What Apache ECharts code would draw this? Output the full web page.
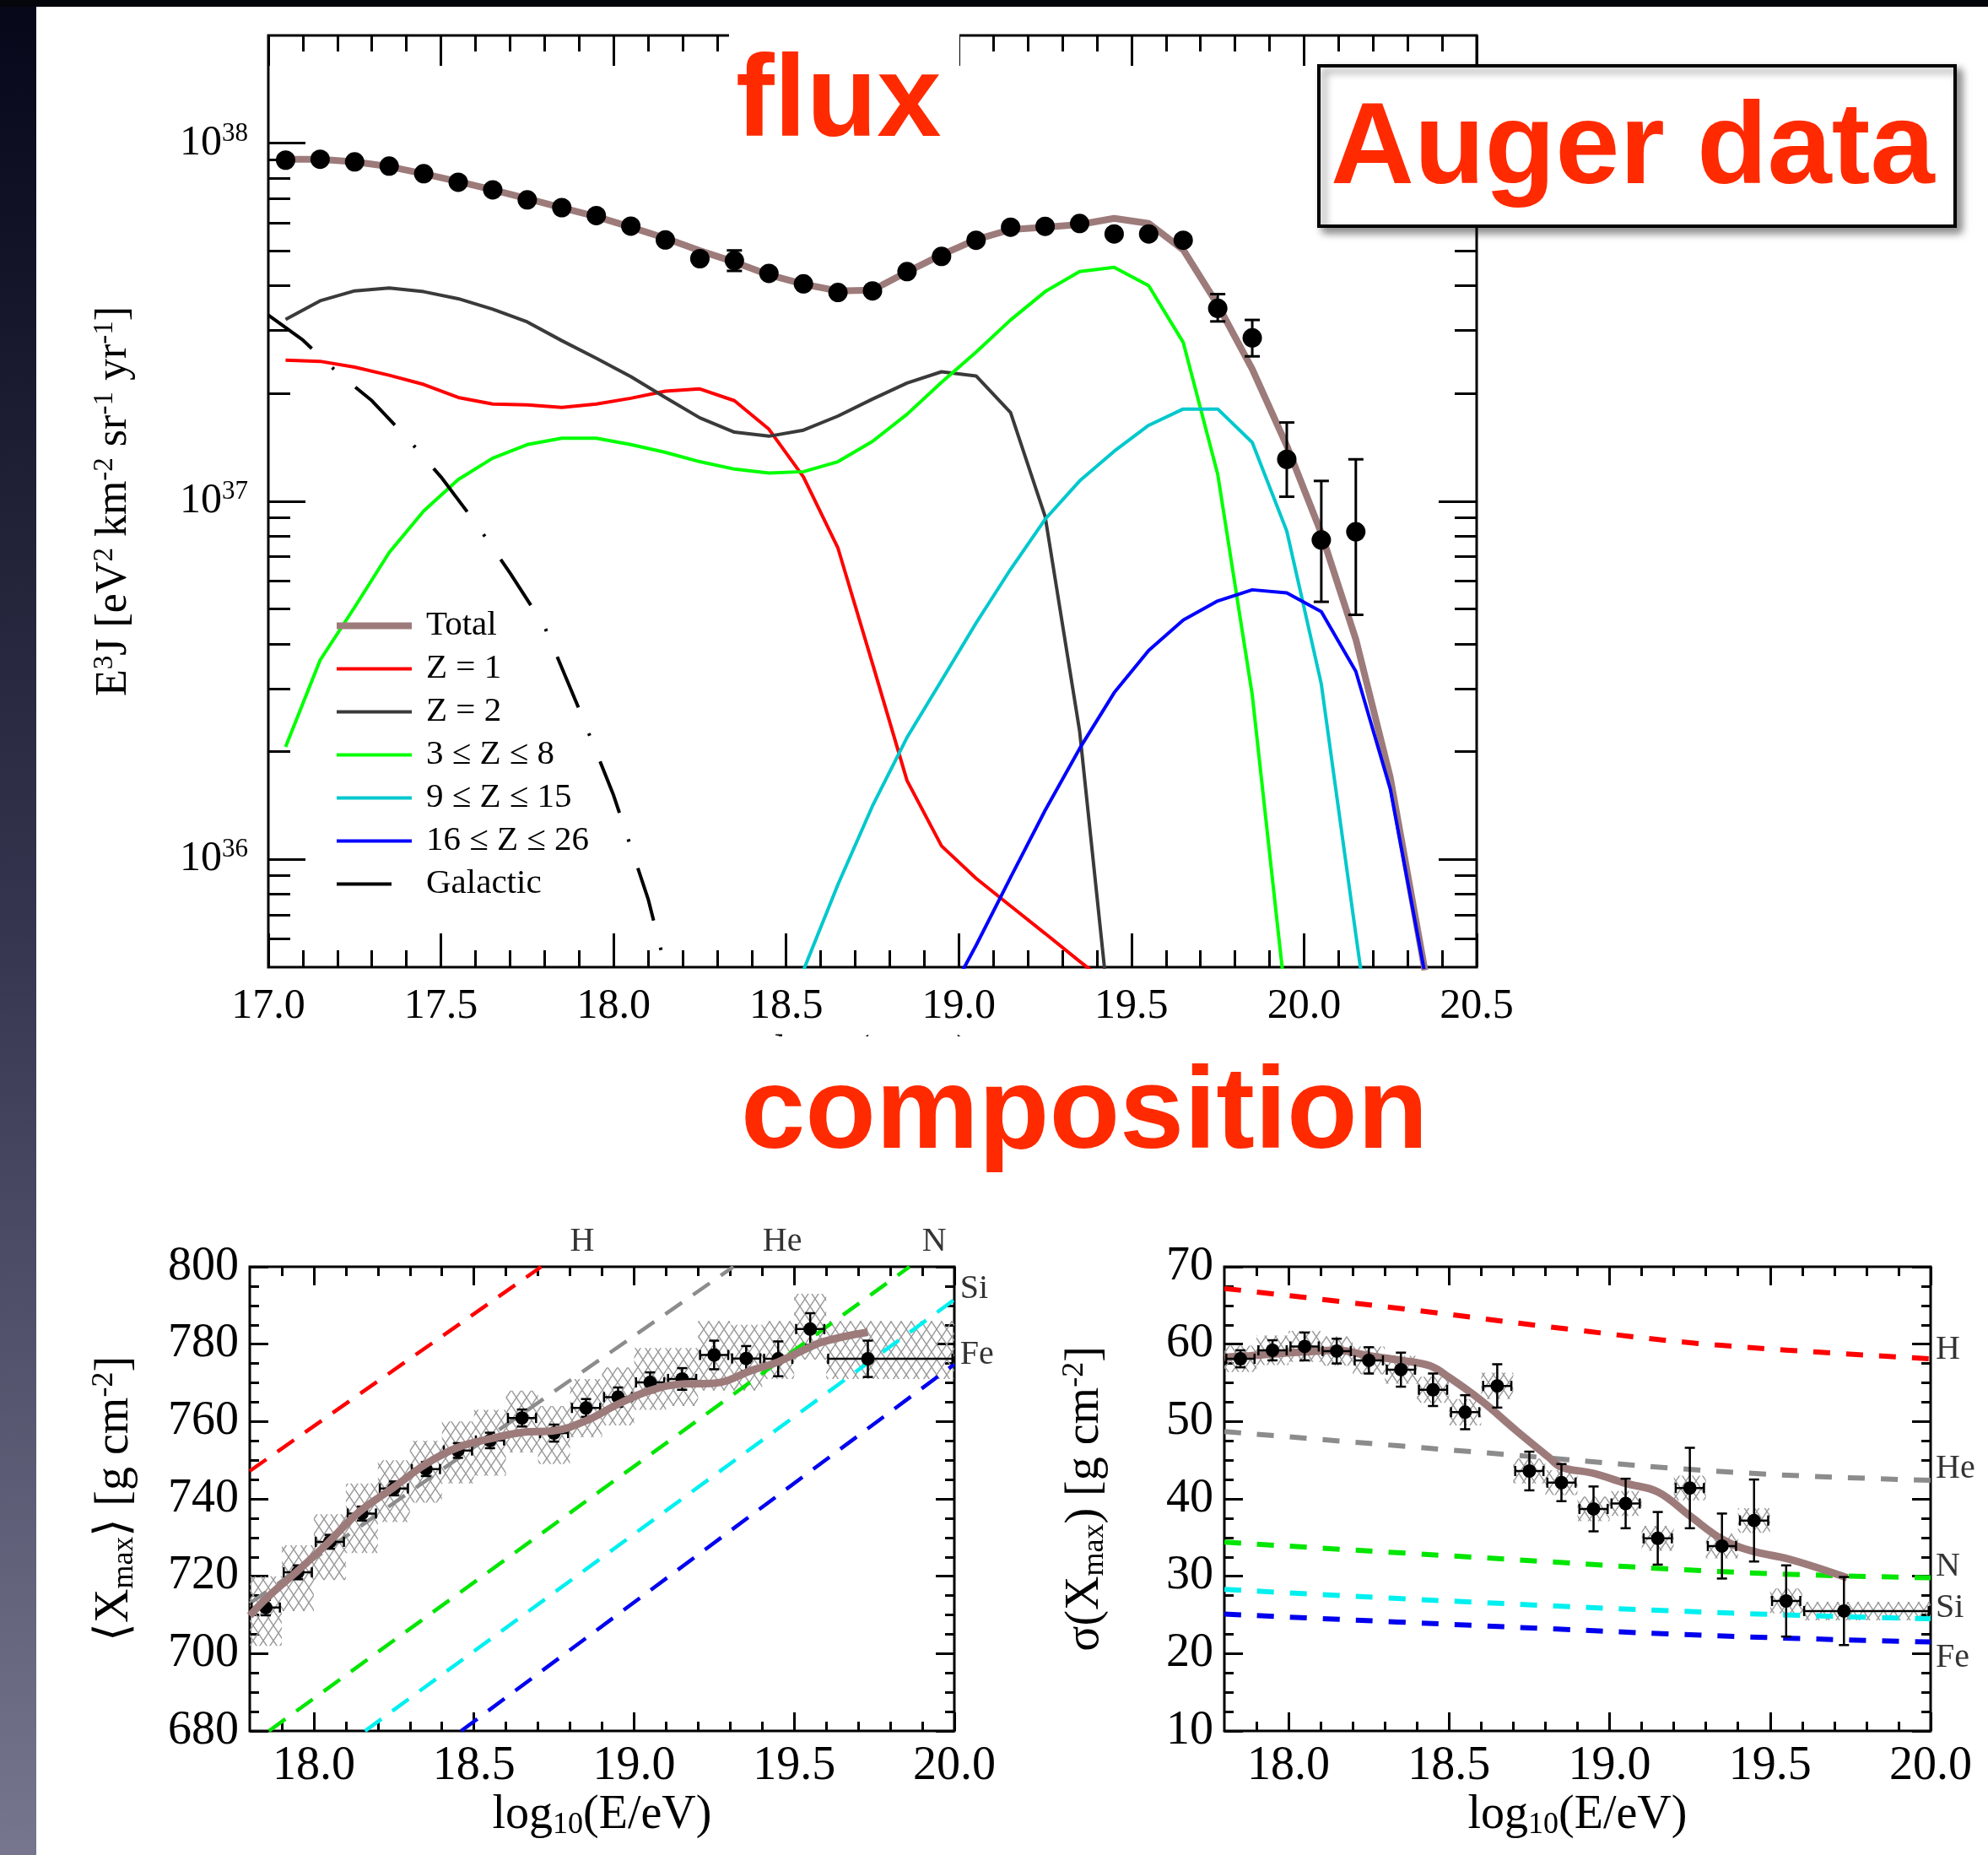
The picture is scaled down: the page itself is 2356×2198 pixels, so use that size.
<!DOCTYPE html>
<html>
<head>
<meta charset="utf-8">
<title>Auger data: flux and composition</title>
<script src="https://cdn.jsdelivr.net/npm/echarts@6/dist/echarts.min.js"></script>
<style>
    html, body { margin: 0; padding: 0; background: #fff; }
    #main { width: 2356px; height: 2198px; }
</style>
</head>
<body>
<div id="main"></div>
<script>
'use strict';

// ---------------- flux panel ----------------
var fluxE = [17.05, 17.15, 17.25, 17.35, 17.45, 17.55, 17.65, 17.75, 17.85, 17.95, 18.05, 18.15, 18.25, 18.35, 18.45, 18.55,
    18.65, 18.75, 18.85, 18.95, 19.05, 19.15, 19.25, 19.35, 19.45, 19.55, 19.65, 19.75, 19.85, 19.95, 20.05, 20.15];
var fluxJ = [8.97e37, 9.02e37, 8.87e37, 8.63e37, 8.22e37, 7.78e37, 7.41e37, 6.95e37, 6.61e37, 6.28e37, 5.87e37, 5.37e37, 4.76e37, 4.70e37, 4.33e37, 4.05e37,
    3.83e37, 3.87e37, 4.38e37, 4.83e37, 5.36e37, 5.83e37, 5.86e37, 5.97e37, 5.58e37, 5.58e37, 5.36e37, 3.46e37, 2.86e37, 1.31e37, 7.80e36, 8.22e36];
var fluxErrE = [18.35, 19.75, 19.85, 19.95, 20.05, 20.15];
var fluxErrLo = [4.40e37, 3.18e37, 2.54e37, 1.03e37, 5.24e36, 4.82e36];
var fluxErrHi = [5.02e37, 3.79e37, 3.21e37, 1.66e37, 1.14e37, 1.31e37];

// model curves, sampled at modelE
var modelE = [17.05, 17.15, 17.25, 17.35, 17.45, 17.55, 17.65, 17.75, 17.85, 17.95, 18.05, 18.15, 18.25, 18.35, 18.45, 18.55, 18.65,
    18.75, 18.85, 18.95, 19.05, 19.15, 19.25, 19.35, 19.45, 19.55, 19.65, 19.75, 19.85, 19.95, 20.05, 20.15, 20.25, 20.35];
var totalJ = [9.02e37, 9.02e37, 8.87e37, 8.61e37, 8.22e37, 7.82e37, 7.41e37, 7.00e37, 6.61e37, 6.24e37, 5.83e37, 5.43e37, 5.01e37, 4.66e37, 4.29e37, 4.04e37, 3.87e37,
    3.89e37, 4.37e37, 4.88e37, 5.38e37, 5.74e37, 5.83e37, 5.93e37, 6.17e37, 5.97e37, 5.04e37, 3.54e37, 2.34e37, 1.43e37, 8.15e36, 4.12e36, 1.69e36, 4.9e35];
var protonJ = [2.48e37, 2.46e37, 2.37e37, 2.25e37, 2.12e37, 1.95e37, 1.87e37, 1.86e37, 1.83e37, 1.87e37, 1.94e37, 2.03e37, 2.06e37, 1.91e37, 1.59e37, 1.17e37, 7.40e36,
    3.52e36, 1.66e36, 1.09e36, 8.85e35, 7.41e35, 6.21e35, 5.19e35, 4.37e35, null, null, null, null, null, null, null, null, null];
var heliumJ = [3.22e37, 3.63e37, 3.87e37, 3.94e37, 3.85e37, 3.68e37, 3.44e37, 3.17e37, 2.81e37, 2.51e37, 2.23e37, 1.95e37, 1.71e37, 1.56e37, 1.52e37, 1.58e37, 1.73e37,
    1.93e37, 2.14e37, 2.30e37, 2.24e37, 1.77e37, 9.08e36, 2.28e36, 2.75e35, null, null, null, null, null, null, null, null, null];
var cnoJ = [2.06e36, 3.60e36, 5.06e36, 7.19e36, 9.40e36, 1.15e37, 1.32e37, 1.44e37, 1.50e37, 1.50e37, 1.44e37, 1.37e37, 1.29e37, 1.23e37, 1.20e37, 1.21e37, 1.29e37,
    1.47e37, 1.75e37, 2.15e37, 2.61e37, 3.21e37, 3.85e37, 4.38e37, 4.50e37, 4.00e37, 2.78e37, 1.19e37, 2.88e36, 3.80e35, null, null, null, null];
var midJ = [null, null, null, null, null, null, null, null, null, null, null, null, null, null, 2.82e35, 4.90e35, 8.51e35,
    1.41e36, 2.19e36, 3.16e36, 4.57e36, 6.46e36, 8.91e36, 1.14e37, 1.38e37, 1.63e37, 1.81e37, 1.81e37, 1.46e37, 8.26e36, 3.09e36, 6.17e35, 1.26e35, null];
var heavyJ = [null, null, null, null, null, null, null, null, null, null, null, null, null, null, null, null, null,
    null, null, 3.80e35, 5.75e35, 8.91e35, 1.37e36, 2.04e36, 2.92e36, 3.83e36, 4.66e36, 5.27e36, 5.66e36, 5.55e36, 4.92e36, 3.35e36, 1.57e36, 4.79e35];
var galE = [17.0, 17.1, 17.2, 17.3, 17.4, 17.5, 17.6, 17.7, 17.8, 17.9, 18.0, 18.1, 18.15];
var galJ = [3.31e37, 2.82e37, 2.29e37, 1.91e37, 1.51e37, 1.17e37, 8.71e36, 6.31e36, 4.47e36, 2.63e36, 1.51e36, 7.76e35, 5.0e35];

var fluxNames = ['Total', 'Z = 1', 'Z = 2', '3 \u2264 Z \u2264 8', '9 \u2264 Z \u2264 15', '16 \u2264 Z \u2264 26', 'Galactic'];
var fluxMajor = [1e36, 1e37, 1e38];

// ---------------- composition panels ----------------
var compE = [17.85, 17.95, 18.05, 18.15, 18.25, 18.35, 18.45, 18.55, 18.65, 18.75, 18.85, 18.95, 19.05, 19.15, 19.25, 19.35, 19.45, 19.55, 19.73];
var compBinLo = [17.8, 17.9, 18.0, 18.1, 18.2, 18.3, 18.4, 18.5, 18.6, 18.7, 18.8, 18.9, 19.0, 19.1, 19.2, 19.3, 19.4, 19.5, 19.6];
var compBinHi = [17.9, 18.0, 18.1, 18.2, 18.3, 18.4, 18.5, 18.6, 18.7, 18.8, 18.9, 19.0, 19.1, 19.2, 19.3, 19.4, 19.5, 19.6, 20.0];

var xmaxMean = [711.9, 721.0, 728.9, 736.2, 742.7, 747.7, 752.5, 755.1, 760.9, 757.0, 763.5, 766.3, 770.1, 771.0, 777.2, 776.3, 776.2, 783.9, 776.2];
var xmaxStat = [2.0, 1.8, 1.8, 1.8, 1.8, 1.8, 1.9, 2.0, 2.2, 2.2, 2.3, 2.5, 2.6, 2.8, 3.7, 3.2, 4.5, 4.1, 4.7];
var xmaxSysLo = [702, 711, 719, 726, 734, 739, 744, 746, 752, 749, 756, 759, 763, 764, 768, 768, 771, 776, 771];
var xmaxSysHi = [720, 728, 736, 744, 750, 755, 760, 763, 768, 764, 771, 774, 779, 779, 786, 785, 786, 793, 786];
var xmaxModelE = [17.8, 17.86, 17.95, 18.04, 18.14, 18.25, 18.35, 18.45, 18.55, 18.65, 18.75, 18.85, 18.95, 19.05, 19.15, 19.25, 19.37, 19.44, 19.51, 19.59, 19.73];
var xmaxModel = [709.8, 714.9, 721.4, 728.3, 736.5, 743.0, 749.0, 753.3, 755.5, 757.2, 757.6, 760.2, 764.5, 768.0, 769.7, 769.9, 773.3, 775.1, 777.7, 780.6, 783.1];
var xmaxH = [[17.8, 747.2], [18.71, 800]];
var xmaxHe = [[17.8, 713.0], [19.31, 800]];
var xmaxN = [[17.86, 680], [19.86, 800]];
var xmaxSi = [[18.16, 680], [20.0, 791.5]];
var xmaxFe = [[18.46, 680], [20.0, 774.8]];

var sigMean = [58.1, 59.2, 59.7, 59.1, 57.9, 56.7, 54.1, 51.2, 54.6, 43.6, 42.1, 38.7, 39.4, 34.9, 41.4, 33.9, 37.2, 26.8, 25.5];
var sigStat = [1.1, 1.3, 1.8, 1.6, 1.7, 2.2, 2.1, 2.2, 2.8, 2.5, 2.4, 2.9, 3.2, 3.4, 5.2, 4.2, 5.3, 4.6, 4.4];
var sigSys = [1.7, 1.9, 2.0, 1.9, 1.8, 1.8, 1.7, 1.7, 1.7, 1.6, 1.6, 1.6, 1.6, 1.6, 1.6, 1.6, 1.6, 1.6, 1.2];
var sigModelE = [17.8, 17.88, 18.05, 18.15, 18.25, 18.35, 18.44, 18.5, 18.6, 18.71, 18.81, 18.85, 18.95, 19.05, 19.15, 19.25, 19.35, 19.44, 19.56, 19.74];
var sigModel = [58.3, 58.5, 59.0, 59.2, 58.5, 57.9, 57.2, 55.7, 52.7, 48.8, 45.4, 44.1, 43.3, 42.0, 40.9, 37.8, 34.8, 33.3, 32.2, 29.8];
var sigH = [[17.8, 67.2], [18.35, 64.6], [18.9, 61.8], [19.33, 59.9], [20.0, 58.1]];
var sigHe = [[17.8, 48.7], [18.6, 46.0], [19.4, 43.4], [20.0, 42.4]];
var sigN = [[17.8, 34.4], [18.6, 32.4], [19.4, 30.5], [20.0, 29.8]];
var sigSi = [[17.8, 28.3], [18.6, 26.6], [19.4, 25.2], [20.0, 24.5]];
var sigFe = [[17.8, 25.1], [18.6, 23.6], [19.4, 22.2], [20.0, 21.5]];

var tagNames = ['H', 'He', 'N', 'Si', 'Fe'];
var xmaxTagX = [18.838, 19.463, 19.937, 20.018, 20.018];
var xmaxTagY = [806.5, 806.5, 806.5, 794.3, 777.3];
var sigTagX = [20.016, 20.016, 20.016, 20.016, 20.016];
var sigTagY = [59.3, 43.9, 31.2, 25.9, 19.4];
var compMajor = [18.0, 18.5, 19.0, 19.5, 20.0];

// ---------------- styles ----------------
var SERIF = '"Liberation Serif", "Times New Roman", serif';
var SANS = '"Liberation Sans", Arial, sans-serif';
var BROWN = '#9d7b7b';
var TITLE_RED = '#ff2a00';
var COMP_COLORS = ['#ff0000', '#8c8c8c', '#00e600', '#00f0f0', '#0000ee'];

function pairs(xs, ys) {
    return xs.map(function (x, i) { return [x, ys[i]]; });
}

// minor ticks for the log axis (2..9 x 10^n) and the composition energy axes
var logMinor = [];
[35, 36, 37, 38].forEach(function (d) {
    for (var m = 2; m <= 9; m++) {
        var v = m * Math.pow(10, d);
        if (v >= 5e35 && v <= 2e38) logMinor.push(v);
    }
});
var compMinor = [];
for (var k = 179; k <= 199; k++) {
    if (k % 5 !== 0) compMinor.push(k / 10);
}

// crosshatch used for systematic-uncertainty boxes
var hatch = (function () {
    var c = document.createElement('canvas');
    c.width = 12; c.height = 18;
    var g = c.getContext('2d');
    g.strokeStyle = '#9a9a9a';
    g.lineWidth = 1.5;
    g.beginPath();
    g.moveTo(-2, -3); g.lineTo(14, 21);
    g.moveTo(14, -3); g.lineTo(-2, 21);
    g.stroke();
    return c;
})();

var tickStyle = {color: '#000', width: 3};

function tickAxis(kind, grid, pos, min, max, ticks, len, label) {
    var ax = {
        type: kind, gridIndex: grid, position: pos, min: min, max: max,
        axisLine: {show: false},
        splitLine: {show: false},
        axisTick: {show: true, inside: true, length: len, customValues: ticks, lineStyle: tickStyle},
        axisLabel: label || {show: false}
    };
    if (kind === 'log') ax.logBase = 10;
    return ax;
}

function compY(grid, pos, min, max, step, label, name, gap) {
    return {
        type: 'value', gridIndex: grid, position: pos, min: min, max: max, interval: step,
        axisLine: {show: false},
        splitLine: {show: false},
        axisTick: {show: true, inside: true, length: 22, lineStyle: tickStyle},
        minorTick: {show: true, splitNumber: 4, length: 11, lineStyle: tickStyle},
        axisLabel: label || {show: false},
        name: name || '', nameLocation: 'middle', nameRotate: 90, nameGap: gap || 0,
        nameTextStyle: {
            fontFamily: SERIF, fontSize: 56, color: '#000',
            rich: {
                sub: {fontFamily: SERIF, fontSize: 36, color: '#000', padding: [24, 0, 0, 0]},
                sup: {fontFamily: SERIF, fontSize: 36, color: '#000', padding: [0, 0, 24, 0]}
            }
        }
    };
}

var compLabelX = {
    customValues: compMajor, margin: 14, fontFamily: SERIF, fontSize: 56, color: '#000',
    formatter: function (v) { return v.toFixed(1); }
};
var compLabelY = {margin: 13, fontFamily: SERIF, fontSize: 56, color: '#000'};
var compName = {
    name: 'log{sub|10}(E/eV)', nameLocation: 'middle', nameGap: 70,
    nameTextStyle: {
        fontFamily: SERIF, fontSize: 56, color: '#000',
        rich: {sub: {fontFamily: SERIF, fontSize: 36, color: '#000', padding: [24, 0, 0, 0]}}
    }
};

function lineSeries(name, xi, yi, data, color, width, dash, z, smooth) {
    return {
        type: 'line', name: name, xAxisIndex: xi, yAxisIndex: yi, data: data,
        symbol: 'none', showSymbol: false, smooth: smooth || false, z: z, silent: true,
        lineStyle: {color: color, width: width, type: dash || 'solid', cap: 'butt'},
        itemStyle: {color: color}
    };
}

function boxSeries(xi, yi, boxes) {
    return {
        type: 'custom', xAxisIndex: xi, yAxisIndex: yi, clip: true, z: 1, silent: true,
        data: boxes,
        renderItem: function (params, api) {
            var a = api.coord([api.value(0), api.value(3)]);
            var b = api.coord([api.value(1), api.value(2)]);
            return {
                type: 'rect',
                shape: {x: a[0], y: a[1], width: b[0] - a[0], height: b[1] - a[1]},
                style: {fill: {image: hatch, repeat: 'repeat'}}
            };
        }
    };
}

function barStyle(w) {
    return {stroke: '#000', lineWidth: w};
}

// x and y error bars with small caps: [x, y, xlo, xhi, ylo, yhi]
function crossSeries(xi, yi, rows) {
    return {
        type: 'custom', xAxisIndex: xi, yAxisIndex: yi, z: 4, silent: true,
        data: rows,
        renderItem: function (params, api) {
            var c = api.coord([api.value(0), api.value(1)]);
            var l = api.coord([api.value(2), api.value(1)]);
            var r = api.coord([api.value(3), api.value(1)]);
            var b = api.coord([api.value(0), api.value(4)]);
            var t = api.coord([api.value(0), api.value(5)]);
            var cap = 6;
            return {
                type: 'group',
                children: [
                    {type: 'line', shape: {x1: l[0], y1: c[1], x2: r[0], y2: c[1]}, style: barStyle(2.5)},
                    {type: 'line', shape: {x1: c[0], y1: t[1], x2: c[0], y2: b[1]}, style: barStyle(2.5)},
                    {type: 'line', shape: {x1: l[0], y1: c[1] - cap, x2: l[0], y2: c[1] + cap}, style: barStyle(2.5)},
                    {type: 'line', shape: {x1: r[0], y1: c[1] - cap, x2: r[0], y2: c[1] + cap}, style: barStyle(2.5)},
                    {type: 'line', shape: {x1: c[0] - cap, y1: t[1], x2: c[0] + cap, y2: t[1]}, style: barStyle(2.5)},
                    {type: 'line', shape: {x1: c[0] - cap, y1: b[1], x2: c[0] + cap, y2: b[1]}, style: barStyle(2.5)}
                ]
            };
        }
    };
}

function dotSeries(xi, yi, data, size, z) {
    return {
        type: 'scatter', xAxisIndex: xi, yAxisIndex: yi, data: data, z: z, silent: true,
        symbol: 'circle', symbolSize: size, itemStyle: {color: '#000', opacity: 1}
    };
}

function tagSeries(xi, yi, xs, ys, aligns) {
    return {
        type: 'scatter', xAxisIndex: xi, yAxisIndex: yi, clip: false, silent: true, z: 6,
        symbolSize: 1, itemStyle: {color: 'rgba(0,0,0,0)'},
        label: {
            show: true, position: 'inside', color: '#000', fontFamily: SERIF, fontSize: 40,
            formatter: function (p) { return p.value[2]; }
        },
        data: tagNames.map(function (n, i) {
            return {value: [xs[i], ys[i], n], label: {align: aligns[i]}};
        })
    };
}

// ---------------- assemble ----------------
var compBoxesXmax = compE.map(function (e, i) {
    return [compBinLo[i], compBinHi[i], xmaxSysLo[i], xmaxSysHi[i]];
});
var compBoxesSig = compE.map(function (e, i) {
    return [compBinLo[i], compBinHi[i], sigMean[i] - sigSys[i], sigMean[i] + sigSys[i]];
});
var crossXmax = compE.map(function (e, i) {
    return [e, xmaxMean[i], compBinLo[i] + 0.006, compBinHi[i] - 0.006, xmaxMean[i] - xmaxStat[i], xmaxMean[i] + xmaxStat[i]];
});
var crossSig = compE.map(function (e, i) {
    return [e, sigMean[i], compBinLo[i] + 0.006, compBinHi[i] - 0.006, sigMean[i] - sigStat[i], sigMean[i] + sigStat[i]];
});

var fluxBars = fluxErrE.map(function (e, i) { return [e, fluxErrLo[i], fluxErrHi[i]]; });

var gridStyle = {show: true, borderColor: '#000', borderWidth: 3, backgroundColor: 'transparent', containLabel: false, outerBoundsMode: 'none'};

var option = {
    animation: false,
    backgroundColor: '#fff',
    textStyle: {fontFamily: SERIF},
    grid: [
        Object.assign({left: 318, top: 42, width: 1432, height: 1104}, gridStyle),
        Object.assign({left: 296, top: 1501, width: 835, height: 550}, gridStyle),
        Object.assign({left: 1451, top: 1501, width: 837, height: 550}, gridStyle)
    ],
    legend: {
        orient: 'vertical', left: 395, top: 716, padding: 0,
        itemWidth: 89, itemHeight: 14, itemGap: 0, selectedMode: false,
        lineStyle: {width: 'inherit'},
        itemStyle: {color: 'rgba(0,0,0,0)', borderWidth: 0, opacity: 0},
        textStyle: {fontFamily: SERIF, fontSize: 41, color: '#000', lineHeight: 51, padding: [0, 0, 0, 12]},
        data: fluxNames
    },
    xAxis: [
        {
            type: 'value', gridIndex: 0, position: 'bottom', min: 17, max: 20.5, interval: 0.5,
            axisLine: {show: false}, splitLine: {show: false},
            axisTick: {show: true, inside: true, length: 40, lineStyle: tickStyle},
            minorTick: {show: true, splitNumber: 5, length: 20, lineStyle: tickStyle},
            axisLabel: {margin: 22, fontFamily: SERIF, fontSize: 50, color: '#000',
                formatter: function (v) { return v.toFixed(1); }},
            name: 'log{sub|10}(E/eV)', nameLocation: 'middle', nameGap: 64,
            nameTextStyle: {fontFamily: SERIF, fontSize: 50, color: '#000',
                rich: {sub: {fontFamily: SERIF, fontSize: 32, color: '#000', padding: [22, 0, 0, 0]}}}
        },
        {
            type: 'value', gridIndex: 0, position: 'top', min: 17, max: 20.5, interval: 0.5,
            axisLine: {show: false}, splitLine: {show: false},
            axisTick: {show: true, inside: true, length: 36, lineStyle: tickStyle},
            minorTick: {show: true, splitNumber: 5, length: 19, lineStyle: tickStyle},
            axisLabel: {show: false}
        },
        Object.assign(tickAxis('value', 1, 'bottom', 17.8, 20, compMajor, 22, compLabelX), compName),
        tickAxis('value', 1, 'bottom', 17.8, 20, compMinor, 11),
        tickAxis('value', 1, 'top', 17.8, 20, compMajor, 22),
        tickAxis('value', 1, 'top', 17.8, 20, compMinor, 11),
        Object.assign(tickAxis('value', 2, 'bottom', 17.8, 20, compMajor, 22, compLabelX), compName),
        tickAxis('value', 2, 'bottom', 17.8, 20, compMinor, 11),
        tickAxis('value', 2, 'top', 17.8, 20, compMajor, 22),
        tickAxis('value', 2, 'top', 17.8, 20, compMinor, 11)
    ],
    yAxis: [
        Object.assign(tickAxis('log', 0, 'left', 5e35, 2e38, fluxMajor, 44, {
            customValues: fluxMajor, margin: 24, fontFamily: SERIF, fontSize: 50, color: '#000',
            formatter: function (v) { return '10{e|' + Math.round(Math.log10(v)) + '}'; },
            rich: {e: {fontFamily: SERIF, fontSize: 31, color: '#000', padding: [0, 0, 22, 0]}}
        }), {
            name: 'E{s|3}J [eV{s|2} km{s|-2} sr{s|-1} yr{s|-1}]',
            nameLocation: 'middle', nameRotate: 90, nameGap: 155,
            nameTextStyle: {fontFamily: SERIF, fontSize: 52, color: '#000',
                rich: {s: {fontFamily: SERIF, fontSize: 33, color: '#000', padding: [0, 0, 22, 0]}}}
        }),
        tickAxis('log', 0, 'left', 5e35, 2e38, logMinor, 26),
        tickAxis('log', 0, 'right', 5e35, 2e38, fluxMajor, 45),
        tickAxis('log', 0, 'right', 5e35, 2e38, logMinor, 26),
        compY(1, 'left', 680, 800, 20, compLabelY, '\u27e8X{sub|max}\u27e9 [g cm{sup|-2}]', 130),
        compY(1, 'right', 680, 800, 20),
        compY(2, 'left', 10, 70, 10, compLabelY, '\u03c3(X{sub|max}) [g cm{sup|-2}]', 135),
        compY(2, 'right', 10, 70, 10)
    ],
    series: [
        // flux panel
        lineSeries('Total', 0, 0, pairs(modelE, totalJ), BROWN, 8, 'solid', 2),
        lineSeries('Z = 1', 0, 0, pairs(modelE, protonJ), '#ff0000', 4, 'solid', 3),
        lineSeries('Z = 2', 0, 0, pairs(modelE, heliumJ), '#3a3a3a', 4, 'solid', 3),
        lineSeries('3 \u2264 Z \u2264 8', 0, 0, pairs(modelE, cnoJ), '#00ff00', 4, 'solid', 3),
        lineSeries('9 \u2264 Z \u2264 15', 0, 0, pairs(modelE, midJ), '#00c8cc', 4, 'solid', 3),
        lineSeries('16 \u2264 Z \u2264 26', 0, 0, pairs(modelE, heavyJ), '#0000ff', 4, 'solid', 3),
        lineSeries('Galactic', 0, 0, pairs(galE, galJ), '#000', 4, [65, 33, 3, 33], 3),
        {
            type: 'custom', xAxisIndex: 0, yAxisIndex: 0, z: 4, silent: true,
            data: fluxBars,
            renderItem: function (params, api) {
                var t = api.coord([api.value(0), api.value(2)]);
                var b = api.coord([api.value(0), api.value(1)]);
                var cap = 9;
                return {
                    type: 'group',
                    children: [
                        {type: 'line', shape: {x1: t[0], y1: t[1], x2: b[0], y2: b[1]}, style: barStyle(3)},
                        {type: 'line', shape: {x1: t[0] - cap, y1: t[1], x2: t[0] + cap, y2: t[1]}, style: barStyle(3)},
                        {type: 'line', shape: {x1: b[0] - cap, y1: b[1], x2: b[0] + cap, y2: b[1]}, style: barStyle(3)}
                    ]
                };
            }
        },
        dotSeries(0, 0, pairs(fluxE, fluxJ), 23, 5),

        // <Xmax> panel
        boxSeries(2, 4, compBoxesXmax),
        lineSeries('xmax-H', 2, 4, xmaxH, COMP_COLORS[0], 4.5, [24, 16], 2),
        lineSeries('xmax-He', 2, 4, xmaxHe, COMP_COLORS[1], 4.5, [24, 16], 2),
        lineSeries('xmax-N', 2, 4, xmaxN, COMP_COLORS[2], 4.5, [24, 16], 2),
        lineSeries('xmax-Si', 2, 4, xmaxSi, COMP_COLORS[3], 4.5, [24, 16], 2),
        lineSeries('xmax-Fe', 2, 4, xmaxFe, COMP_COLORS[4], 4.5, [24, 16], 2),
        crossSeries(2, 4, crossXmax),
        dotSeries(2, 4, pairs(compE, xmaxMean), 16, 5),
        lineSeries('xmax-model', 2, 4, pairs(xmaxModelE, xmaxModel), BROWN, 9, 'solid', 6, 0.4),
        tagSeries(2, 4, xmaxTagX, xmaxTagY, ['center', 'center', 'center', 'left', 'left']),

        // sigma(Xmax) panel
        boxSeries(6, 6, compBoxesSig),
        lineSeries('sig-H', 6, 6, sigH, COMP_COLORS[0], 6, [20, 19], 2, 0.4),
        lineSeries('sig-He', 6, 6, sigHe, COMP_COLORS[1], 6, [20, 19], 2, 0.4),
        lineSeries('sig-N', 6, 6, sigN, COMP_COLORS[2], 6, [20, 19], 2, 0.4),
        lineSeries('sig-Si', 6, 6, sigSi, COMP_COLORS[3], 6, [20, 19], 2, 0.4),
        lineSeries('sig-Fe', 6, 6, sigFe, COMP_COLORS[4], 6, [20, 19], 2, 0.4),
        lineSeries('sig-model', 6, 6, pairs(sigModelE, sigModel), BROWN, 9, 'solid', 3, 0.4),
        crossSeries(6, 6, crossSig),
        dotSeries(6, 6, pairs(compE, sigMean), 16, 5),
        tagSeries(6, 6, sigTagX, sigTagY, ['left', 'left', 'left', 'left', 'left'])
    ],
    graphic: [
        {type: 'rect', z: 100, silent: true, shape: {x: 0, y: 0, width: 43, height: 2198},
            style: {fill: {type: 'linear', x: 0, y: 0, x2: 0, y2: 1,
                colorStops: [{offset: 0, color: '#07071a'}, {offset: 0.5, color: '#35354f'}, {offset: 1, color: '#76768f'}]}}},
        {type: 'rect', z: 100, silent: true, shape: {x: 0, y: 0, width: 2356, height: 8}, style: {fill: '#05050c'}},
        {type: 'rect', z: 100, silent: true, shape: {x: 864, y: 22, width: 273, height: 66}, style: {fill: '#fff'}},
        {type: 'text', z: 101, silent: true, x: 872, y: 123,
            style: {text: 'flux', fill: TITLE_RED, font: 'bold 137px ' + SANS, align: 'left', verticalAlign: 'middle'}},
        {type: 'rect', z: 100, silent: true, shape: {x: 43, y: 1228, width: 2313, height: 190}, style: {fill: '#fff'}},
        {type: 'text', z: 101, silent: true, x: 878, y: 1322,
            style: {text: 'composition', fill: TITLE_RED, font: 'bold 137px ' + SANS, align: 'left', verticalAlign: 'middle'}},
        {type: 'rect', z: 100, silent: true, shape: {x: 1563, y: 78, width: 754, height: 190},
            style: {fill: '#fff', stroke: '#000', lineWidth: 4, shadowBlur: 10, shadowOffsetX: 6, shadowOffsetY: 6,
                shadowColor: 'rgba(0,0,0,0.45)'}},
        {type: 'text', z: 101, silent: true, x: 1577, y: 179,
            style: {text: 'Auger data', fill: TITLE_RED, font: 'bold 137px ' + SANS, align: 'left', verticalAlign: 'middle'}}
    ]
};

var chart = echarts.init(document.getElementById('main'));
chart.setOption(option);
</script>
</body>
</html>
